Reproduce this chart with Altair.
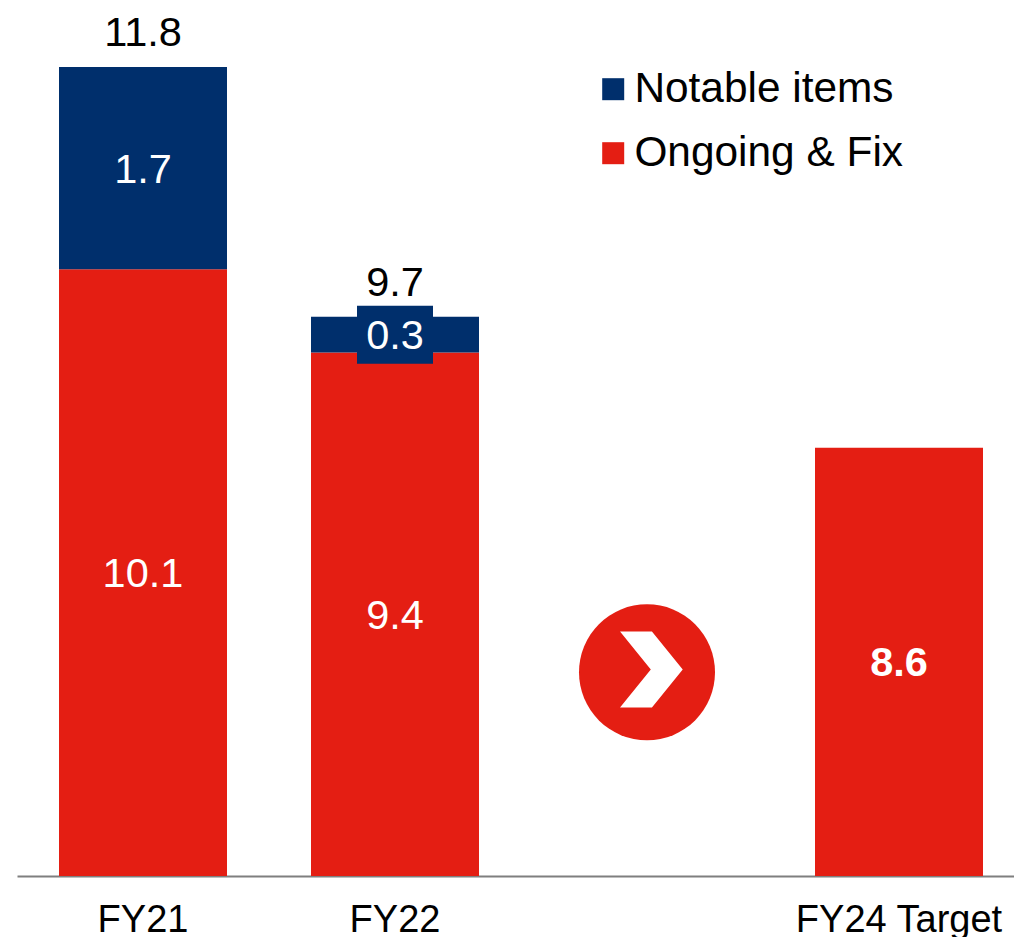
import altair as alt
import pandas as pd

FONT = "Liberation Sans"
RED = "#E41E13"
NAVY = "#002F6C"
INK = "#000000"

# Category order keeps an empty slot between the actuals and the target
categories = ["FY21", "FY22", " ", "FY24 Target"]
ongoing = [10.1, 9.4, None, 8.6]
notable = [1.7, 0.3, None, None]
totals = [11.8, 9.7, None, None]
y_floor = 5.0
y_ceiling = 12.363
arrow_level = [6.712]
chevron_level = [6.735]

rows = []
for cat, base, extra in zip(categories, ongoing, notable):
    if base is not None:
        rows.append({"cat": cat, "series": "Ongoing & Fix", "low": 0.0, "high": base,
                     "mid": (y_floor + base) / 2, "value": base})
    if extra is not None:
        rows.append({"cat": cat, "series": "Notable items", "low": base, "high": base + extra,
                     "mid": base + extra / 2, "value": extra})
bars = pd.DataFrame(rows)
bars["label"] = bars["value"].map("{:.1f}".format)
total_rows = pd.DataFrame(
    [{"cat": c, "total": t, "label": f"{t:.1f}"} for c, t in zip(categories, totals) if t is not None]
)

x_scale = alt.Scale(domain=categories, range=[0, 1008], paddingInner=1 / 3, paddingOuter=1 / 6)
y_scale = alt.Scale(domain=[y_floor, y_ceiling], zero=False, nice=False)

x_enc = alt.X(
    "cat:N",
    scale=x_scale,
    sort=categories,
    axis=alt.Axis(
        title=None,
        ticks=False,
        labelAngle=0,
        labelFont=FONT,
        labelFontSize=38,
        labelColor=INK,
        labelPadding=55,
        labelBaseline="alphabetic",
        labelOverlap=False,
        labelLimit=400,
        domainColor="#7F7F7F",
        domainWidth=2,
        grid=False,
    ),
)
y_axis = alt.Y("low:Q", scale=y_scale, axis=None)

stack = alt.Chart(bars).mark_bar(size=168, clip=True).encode(
    x=x_enc,
    y=y_axis,
    y2="high:Q",
    color=alt.Color(
        "series:N",
        scale=alt.Scale(domain=["Notable items", "Ongoing & Fix"], range=[NAVY, RED]),
        legend=alt.Legend(
            title=None,
            orient="none",
            legendX=575,
            legendY=68,
            symbolType="square",
            symbolSize=484,
            symbolStrokeWidth=0,
            labelFont=FONT,
            labelFontSize=42.4,
            labelColor=INK,
            labelOffset=0,
            labelLimit=500,
            rowPadding=21,
        ),
    ),
)

# Backing plate that keeps the small segment's label legible
plate = alt.Chart(bars[bars["label"] == "0.3"]).mark_rect(width=76, height=58, color=NAVY).encode(
    x=x_enc,
    y=alt.Y("mid:Q", scale=y_scale, axis=None),
)

plain = bars[bars["label"] != "8.6"]
segment_labels = alt.Chart(plain).mark_text(
    font=FONT, fontSize=41.5, color="#FFFFFF", baseline="middle", align="center", dy=2.5
).encode(
    x=x_enc,
    y=alt.Y("mid:Q", scale=y_scale, axis=None),
    text="label:N",
)

target_label = alt.Chart(bars[bars["label"] == "8.6"]).mark_text(
    font=FONT, fontSize=41.5, fontWeight="bold", color="#FFFFFF", baseline="middle", align="center", dy=2
).encode(
    x=x_enc,
    y=alt.Y("mid:Q", scale=y_scale, axis=None),
    text="label:N",
)

total_labels = alt.Chart(total_rows).mark_text(
    font=FONT, fontSize=41.5, color=INK, baseline="middle", align="center", dy=-33
).encode(
    x=x_enc,
    y=alt.Y("total:Q", scale=y_scale, axis=None),
    text="label:N",
)

# Progress badge: red disc with a white chevron, sitting in the empty slot
disc = alt.Chart(pd.DataFrame({"cat": [" "], "level": arrow_level})).mark_point(
    shape="circle", filled=True, size=18496, color=RED, opacity=1, strokeWidth=0
).encode(
    x=x_enc,
    y=alt.Y("level:Q", scale=y_scale, axis=None),
)
chevron = alt.Chart(pd.DataFrame({"cat": [" "], "level": chevron_level})).mark_point(
    shape="M-0.71,-1 L0.13,-1 L0.94,0 L0.13,1 L-0.71,1 L0.1,0 Z",
    filled=True,
    size=5776,
    color="#FFFFFF",
    opacity=1,
    strokeWidth=0,
).encode(
    x=x_enc,
    y=alt.Y("level:Q", scale=y_scale, axis=None),
)

chart = (
    alt.layer(stack, plate, segment_labels, target_label, total_labels, disc, chevron)
    .properties(
        width=997,
        height=876,
        padding={"left": 17, "top": 0, "right": 0, "bottom": 61},
        autosize=alt.AutoSizeParams(type="none"),
        background="#FFFFFF",
    )
    .configure_view(stroke=None)
)

chart.save("out.html", embed_options={"renderer": "svg", "actions": False})
